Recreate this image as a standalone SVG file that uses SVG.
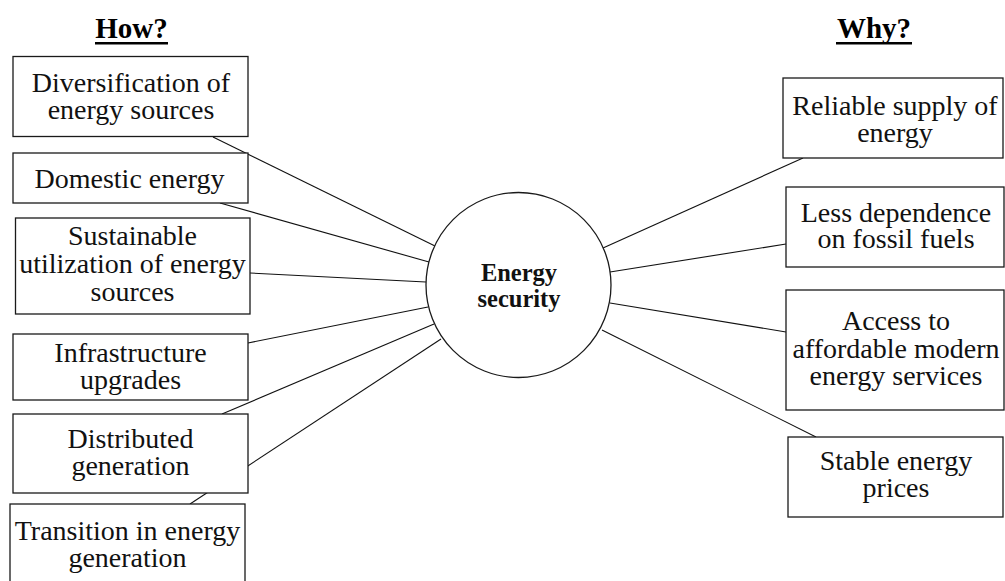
<svg xmlns="http://www.w3.org/2000/svg" width="1005" height="581" viewBox="0 0 1005 581">
<style>
.box{fill:#fff;stroke:#1a1a1a;stroke-width:1.3}
.t{font-family:"Liberation Serif","Times New Roman",serif;font-size:28px;fill:#111;text-anchor:middle}
.h{font-family:"Liberation Serif","Times New Roman",serif;font-size:29px;font-weight:bold;fill:#000;text-anchor:middle}
.c{font-family:"Liberation Serif","Times New Roman",serif;font-size:24.5px;font-weight:bold;fill:#111;text-anchor:middle}
.ln{stroke:#111;stroke-width:1.1;fill:none}
</style>
<rect width="1005" height="581" fill="#fff"/>
<g id="headers">
<text class="h" x="131.5" y="38">How?</text>
<rect x="95" y="42" width="73" height="2.5" fill="#000"/>
<text class="h" x="874" y="38">Why?</text>
<rect x="836" y="42" width="76" height="2.5" fill="#000"/>
</g>
<g id="connectors">
<line class="ln" x1="213" y1="137" x2="435" y2="246"/>
<line class="ln" x1="220" y1="203" x2="429" y2="262"/>
<line class="ln" x1="250" y1="273" x2="426" y2="282"/>
<line class="ln" x1="248" y1="343" x2="428" y2="307"/>
<line class="ln" x1="222" y1="414" x2="434" y2="324"/>
<line class="ln" x1="441" y1="339" x2="190" y2="504"/>
<line class="ln" x1="803" y1="158" x2="603" y2="248"/>
<line class="ln" x1="786" y1="244" x2="610" y2="272"/>
<line class="ln" x1="786" y1="332" x2="610" y2="303"/>
<line class="ln" x1="816" y1="437" x2="602" y2="330"/>
</g>
<g id="center">
<circle cx="518.5" cy="285" r="92.5" fill="#fff" stroke="#1a1a1a" stroke-width="1.3"/>
<text class="c" x="519" y="281">Energy</text>
<text class="c" x="519" y="307">security</text>
</g>
<g id="diversification">
<rect class="box" x="13" y="56.5" width="235" height="80"/>
<text class="t" x="131" y="92">Diversification of</text>
<text class="t" x="131" y="118.5">energy sources</text>
</g>
<g id="domestic">
<rect class="box" x="13" y="153" width="235" height="50"/>
<text class="t" x="129.5" y="188">Domestic energy</text>
</g>
<g id="sustainable">
<rect class="box" x="15.5" y="218" width="234.5" height="96"/>
<text class="t" x="132.5" y="245">Sustainable</text>
<text class="t" x="132.5" y="273">utilization of energy</text>
<text class="t" x="132.5" y="301">sources</text>
</g>
<g id="infrastructure">
<rect class="box" x="13" y="334" width="235" height="66"/>
<text class="t" x="130.5" y="362">Infrastructure</text>
<text class="t" x="130.5" y="389">upgrades</text>
</g>
<g id="distributed">
<rect class="box" x="13" y="414" width="235" height="79"/>
<text class="t" x="130.5" y="448">Distributed</text>
<text class="t" x="130.5" y="475">generation</text>
</g>
<g id="transition">
<rect class="box" x="10" y="504" width="235" height="90"/>
<text class="t" x="127.5" y="540">Transition in energy</text>
<text class="t" x="127.5" y="567">generation</text>
</g>
<g id="reliable">
<rect class="box" x="783" y="78" width="220" height="80"/>
<text class="t" x="895" y="115">Reliable supply of</text>
<text class="t" x="895" y="141.5">energy</text>
</g>
<g id="dependence">
<rect class="box" x="786" y="187" width="218" height="80"/>
<text class="t" x="896" y="221.5">Less dependence</text>
<text class="t" x="896" y="248">on fossil fuels</text>
</g>
<g id="access">
<rect class="box" x="786" y="290" width="218" height="120"/>
<text class="t" x="896" y="330">Access to</text>
<text class="t" x="896" y="357.5">affordable modern</text>
<text class="t" x="896" y="385">energy services</text>
</g>
<g id="stable">
<rect class="box" x="788" y="437" width="215" height="80"/>
<text class="t" x="896" y="470">Stable energy</text>
<text class="t" x="896" y="497">prices</text>
</g>
</svg>
